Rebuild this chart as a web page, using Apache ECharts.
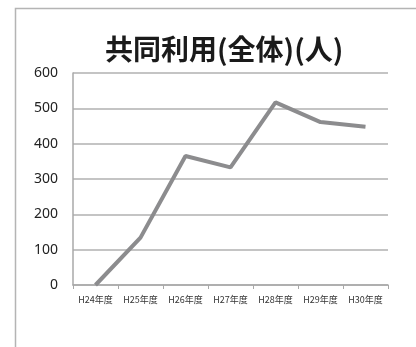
<!DOCTYPE html>
<html>
<head>
<meta charset="utf-8">
<script src="https://cdn.jsdelivr.net/npm/echarts@6/dist/echarts.min.js"></script>
<style>
html,body{margin:0;padding:0;background:#fff;}
#chart{width:416px;height:347px;}
</style>
</head>
<body>
<div id="chart"></div>
<script>
// Fiscal years and shared-use counts (people)
const categories = ['H24年度', 'H25年度', 'H26年度', 'H27年度', 'H28年度', 'H29年度', 'H30年度'];
const usage = [0, 134, 365, 333, 517, 461, 448];
const yTicks = [0, 100, 200, 300, 400, 500, 600];

const chart = echarts.init(document.getElementById('chart'));
chart.setOption({
  animation: false,
  backgroundColor: '#ffffff',
  title: {
    text: '共同利用(全体)(人)',
    left: 100,
    top: 30,
    textStyle: {
      fontFamily: 'Noto Sans CJK JP',
      fontWeight: 'bold',
      fontSize: 28,
      color: '#1a1a1a'
    }
  },
  graphic: [{
    type: 'rect',
    shape: { x: 15.5, y: 8.5, width: 420, height: 360 },
    style: { fill: 'none', stroke: '#b4b4b4', lineWidth: 1.5 },
    silent: true
  }],
  grid: { left: 73, right: 28, top: 73, bottom: 62 },
  xAxis: {
    type: 'category',
    data: categories,
    boundaryGap: true,
    axisLine: { lineStyle: { color: '#a8a8a8', width: 1.5 } },
    axisTick: { show: true, length: 4, interval: 0, lineStyle: { color: '#a8a8a8' } },
    axisLabel: { interval: 0, color: '#333', fontSize: 9, fontFamily: 'Noto Sans CJK JP', margin: 10 }
  },
  yAxis: {
    type: 'value',
    min: yTicks[0],
    max: yTicks[yTicks.length - 1],
    interval: 100,
    axisLine: { show: true, lineStyle: { color: '#a8a8a8', width: 1.5 } },
    axisTick: { show: false },
    axisLabel: { color: '#222', fontSize: 14, fontFamily: 'Liberation Sans Narrow, Noto Sans', margin: 15 },
    splitLine: { lineStyle: { color: '#b0b0b0', width: 1.5 } }
  },
  series: [{
    type: 'line',
    data: usage,
    symbol: 'none',
    lineStyle: { color: '#8c8c8e', width: 4 }
  }]
});
</script>
</body>
</html>
